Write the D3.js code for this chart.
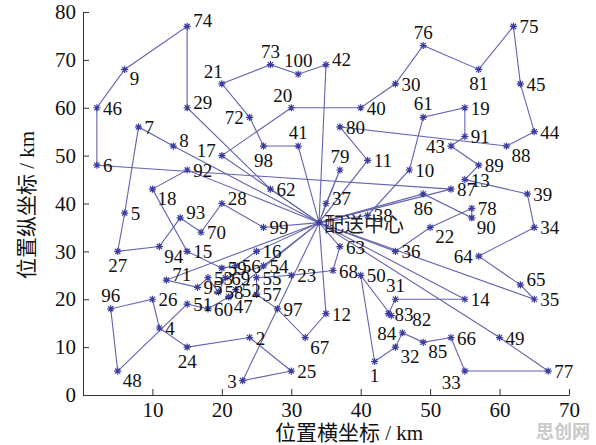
<!DOCTYPE html>
<html>
<head>
<meta charset="utf-8">
<script src="https://cdn.jsdelivr.net/npm/d3@7"></script>
<style>
body { margin: 0; background: #fff; }
</style>
</head>
<body>
<svg id="chart" width="596" height="445"></svg>
<script>

// depot and customer positions (km), customer n is at index n-1
var depot = [34, 36];
var pointX = [42, 24, 23, 11, 6, 2, 8, 13, 6, 47,
              41, 35, 55, 55, 15, 25, 20, 10, 55, 30,
              20, 50, 30, 15, 30, 10, 5, 20, 15, 45,
              45, 45, 55, 65, 65, 45, 35, 41, 64, 40,
              31, 35, 53, 65, 63, 2, 21, 5, 60, 40,
              15, 22, 18, 26, 25, 22, 25, 19.5, 20, 18,
              49, 27, 37, 57, 63, 53, 32, 36, 20.5, 17,
              12, 24, 27, 15, 62, 49, 67, 56, 37, 37,
              57, 44.4, 44, 46, 49, 49, 53, 61, 57, 56,
              55, 15, 14, 11, 16.5, 4, 28, 26, 26, 31];
var pointY = [7, 12, 3, 14, 38, 48, 56, 52, 68, 47,
              49, 17, 45, 20, 30, 30, 50, 43, 60, 60,
              65, 35, 25, 10, 5, 20, 30, 40, 60, 65,
              20, 10, 5, 35, 20, 30, 40, 37.5, 42, 60,
              52, 69, 52, 55, 65, 60, 20.5, 5, 12, 25,
              19, 22, 24.5, 27, 24.5, 27, 21, 21.5, 26.5, 18,
              58, 43, 31, 29, 23, 12, 12, 26, 24.5, 34,
              24, 58, 69, 77, 77, 73, 5, 39, 47, 56,
              68, 16.6, 17, 13, 11, 42, 43, 52, 48, 37,
              54, 47, 37, 31, 22.5, 18, 18, 52, 35, 67];

// vehicle routes, each starts and ends at the depot
var routes = [
  [42, 100, 73, 21, 72, 98, 41],
  [17, 20, 40, 30, 76, 81, 75, 45, 44, 88, 80, 11],
  [38, 10, 61, 19, 91, 43, 89, 13, 39, 34, 64, 65, 35],
  [62, 29, 74, 9, 46, 6, 87],
  [8, 7, 5, 27, 94, 93, 70, 28, 99],
  [92, 18, 15, 59, 56, 16],
  [3, 25, 2, 24, 4, 26, 96, 48, 51, 60, 47, 52],
  [12, 67, 97, 57, 55, 23, 68, 63],
  [79, 37],
  [86, 90, 78, 22, 36],
  [71, 95, 53, 58, 69, 54],
  [14, 31, 83, 82, 50, 1, 32, 84, 85, 66, 33, 77, 49]
];

var xTicks = [10, 20, 30, 40, 50, 60, 70];
var yTicks = [0, 10, 20, 30, 40, 50, 60, 70, 80];

// where each number sits around its marker
var labelSide = {
  1: "b", 3: "l", 8: "ra", 9: "rb", 17: "la", 18: "rb", 20: "al", 21: "al",
  22: "rb", 24: "b", 27: "b", 28: "ra", 29: "ra", 31: "a", 32: "rb", 33: "lb",
  37: "ra", 41: "a", 42: "ra", 43: "l", 47: "rb", 48: "rb", 61: "a", 64: "l",
  65: "ra", 67: "rb", 71: "ra", 72: "l", 73: "a", 74: "ra", 76: "a", 79: "a",
  81: "b", 82: "rr", 84: "l", 85: "rb", 86: "b", 88: "rb", 90: "rb", 93: "ra",
  94: "rb", 96: "a", 98: "b", 100: "a"
};
var sideOffset = {
  r: [6, 7, "start"], ra: [6, 1, "start"], rb: [5, 16, "start"],
  rr: [21, 10, "start"],
  a: [0, -7, "middle"], al: [1, -6, "end"], b: [0, 21, "middle"],
  l: [-6, 7, "end"], la: [-6, 1, "end"], lb: [-4, 18, "end"]
};

var svg = d3.select("#chart");

var x = d3.scaleLinear().domain([0, 70]).range([83, 569]);
var y = d3.scaleLinear().domain([0, 80]).range([395, 12]);

var lineColor = "#6363b0", markColor = "#3c3ca0";

// routes
var line = d3.line()
  .x(function(d) { return x(d[0]); })
  .y(function(d) { return y(d[1]); });

routes.forEach(function(r) {
  var pts = [depot];
  r.forEach(function(n) { pts.push([pointX[n - 1], pointY[n - 1]]); });
  pts.push(depot);
  svg.append("path")
    .attr("d", line(pts))
    .attr("fill", "none")
    .attr("stroke", lineColor)
    .attr("stroke-width", 1.1);
});

// axes
svg.append("g")
  .attr("transform", "translate(0," + y(0) + ")")
  .call(d3.axisBottom(x).tickValues(xTicks).tickSizeInner(-6).tickSizeOuter(0).tickPadding(7))
  .call(function(g) {
    g.selectAll("text").style("font-family", "'Liberation Serif', serif").style("font-size", "21px").attr("fill", "#111");
    g.selectAll("line, path").attr("stroke", "#333");
  });

svg.append("g")
  .attr("transform", "translate(" + x(0) + ",0)")
  .call(d3.axisLeft(y).tickValues(yTicks).tickSizeInner(-6).tickSizeOuter(0).tickPadding(7))
  .call(function(g) {
    g.selectAll("text").style("font-family", "'Liberation Serif', serif").style("font-size", "21px").attr("fill", "#111");
    g.selectAll("line, path").attr("stroke", "#333");
  });

// star markers
var r0 = 3.6, d0 = 2.6;
var star = "M" + (-r0) + ",0H" + r0 + "M0," + (-r0) + "V" + r0 +
  "M" + (-d0) + "," + (-d0) + "L" + d0 + "," + d0 +
  "M" + (-d0) + "," + d0 + "L" + d0 + "," + (-d0);

var all = pointX.map(function(v, i) { return { id: i + 1, x: v, y: pointY[i] }; });

svg.append("g").selectAll("path")
  .data(all.concat([{ id: 0, x: depot[0], y: depot[1] }]))
  .enter().append("path")
  .attr("d", star)
  .attr("transform", function(d) { return "translate(" + x(d.x) + "," + y(d.y) + ")"; })
  .attr("stroke", markColor)
  .attr("stroke-width", 1.2)
  .attr("fill", "none");

// customer numbers
svg.append("g").selectAll("text")
  .data(all)
  .enter().append("text")
  .each(function(d) {
    var o = sideOffset[labelSide[d.id] || "r"];
    d3.select(this)
      .attr("x", x(d.x) + o[0])
      .attr("y", y(d.y) + o[1])
      .attr("text-anchor", o[2]);
  })
  .style("font-family", "'Liberation Serif', serif")
  .style("font-size", "19px")
  .attr("fill", "#111")
  .text(function(d) { return d.id; });

svg.append("text")
  .attr("x", x(depot[0]) + 5)
  .attr("y", y(depot[1]) + 9)
  .style("font-family", "'Noto Sans CJK SC', sans-serif")
  .style("font-size", "20px")
  .attr("fill", "#222")
  .text("配送中心");

// axis titles
svg.append("text")
  .attr("x", 349)
  .attr("y", 440)
  .attr("text-anchor", "middle")
  .style("font-family", "'Liberation Serif', 'Noto Sans CJK SC', serif")
  .style("font-size", "21px")
  .attr("fill", "#111")
  .text("位置横坐标 / km");

svg.append("text")
  .attr("transform", "translate(34,205) rotate(-90)")
  .attr("text-anchor", "middle")
  .style("font-family", "'Liberation Serif', 'Noto Sans CJK SC', serif")
  .style("font-size", "21px")
  .attr("fill", "#111")
  .text("位置纵坐标 / km");

svg.append("text")
  .attr("x", 590)
  .attr("y", 438)
  .attr("text-anchor", "end")
  .style("font-family", "'Noto Sans CJK SC', sans-serif")
  .style("font-size", "18px")
  .style("font-weight", "bold")
  .attr("fill", "#c9c9c9")
  .text("思创网");
</script>
</body>
</html>
